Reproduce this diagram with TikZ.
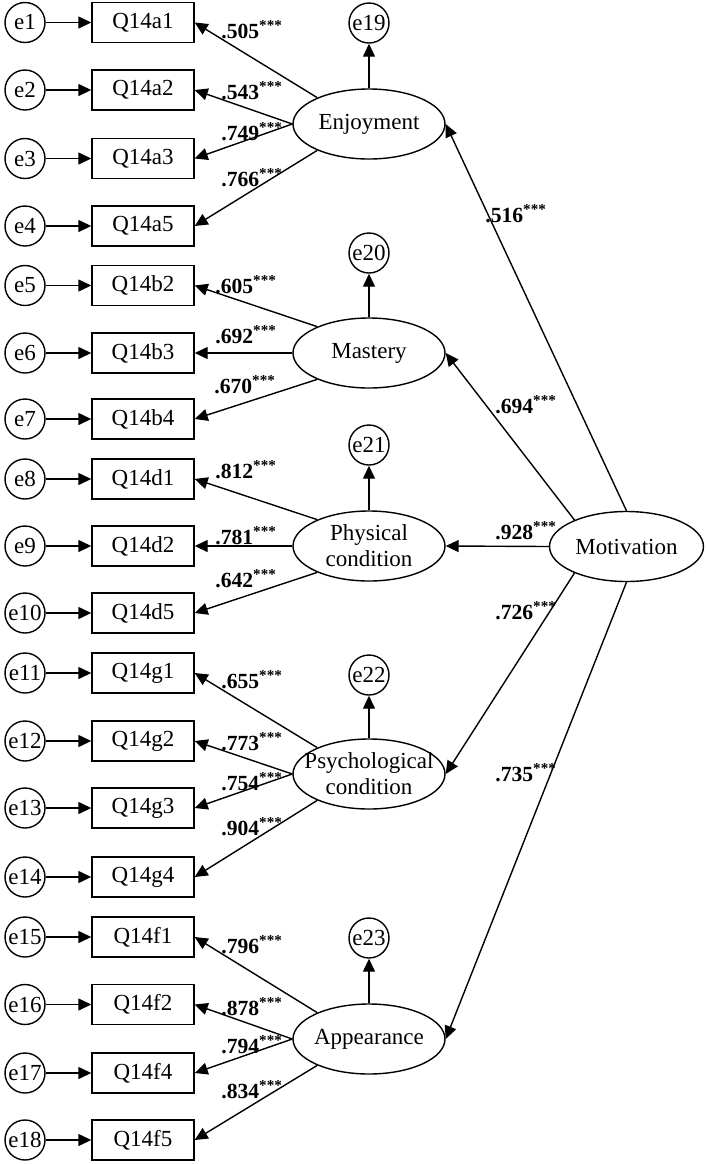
\documentclass[tikz,border=0pt]{standalone}
\usepackage{fontspec}
\setmainfont{Liberation Serif}
\usetikzlibrary{arrows.meta,shapes.geometric}

\tikzset{every node/.style={font=\fontsize{11.5}{13}\selectfont}}

\begin{document}
\begin{tikzpicture}[x=0.5pt, y=-0.5pt,
			item/.style={draw, rectangle, line width=0.7pt, minimum width=51pt, minimum height=20pt, inner sep=0pt},
			err/.style={draw, circle, line width=0.7pt, minimum size=20pt, inner sep=0pt},
			latent/.style={draw, ellipse, line width=0.7pt, minimum width=76pt, minimum height=35pt, inner xsep=-10pt, inner ysep=-8pt, align=center},
			arr/.style={-{Triangle[length=6.5pt,width=6pt]}, line width=0.7pt},
			coef/.style={font=\fontsize{10.8}{12}\selectfont\bfseries, inner sep=0pt, anchor=base west},
			]
			\useasboundingbox (0,0) rectangle (707,1164);
			
			% Observed items with their error terms
			\foreach \name/\y [count=\n from 1] in {Q14a1/22.5, Q14a2/90, Q14a3/158.5, Q14a5/226,
				Q14b2/285.5, Q14b3/353, Q14b4/419, Q14d1/479, Q14d2/546, Q14d5/613,
				Q14g1/673, Q14g2/741, Q14g3/808, Q14g4/877,
				Q14f1/937, Q14f2/1004.5, Q14f4/1073, Q14f5/1140} {
				\node[item] (q\n) at (143,\y) {\name};
				\node[err] (e\n) at (25,\y) {e\n};
				\draw[arr] (e\n) -- (q\n);
			}
			
			% Latent factors
			\node[latent] (enj) at (369,124) {Enjoyment};
			\node[latent] (mas) at (369,353) {Mastery};
			\node[latent] (phy) at (369,546) {Physical\\condition};
			\node[latent] (psy) at (369,774) {Psychological\\condition};
			\node[latent] (app) at (369,1039) {Appearance};
			\node[latent, minimum width=77pt] (mot) at (626.5,546.5) {Motivation};
			
			% Disturbances
			\foreach \f/\y [count=\n from 19] in {enj/23, mas/253, phy/445, psy/675, app/938} {
				\node[err] (e\n) at (369,\y) {e\n};
				\draw[arr] (\f) -- (e\n);
			}
			
			% Loadings
			\draw[arr] (enj.153) -- (q1.east);
			\draw[arr] (enj.west) -- (q2.east);
			\draw[arr] (enj.west) -- (q3.east);
			\draw[arr] (enj.207) -- (q4.east);
			\draw[arr] (mas.153) -- (q5.east);
			\draw[arr] (mas.west) -- (q6.east);
			\draw[arr] (mas.207) -- (q7.east);
			\draw[arr] (phy.153) -- (q8.east);
			\draw[arr] (phy.west) -- (q9.east);
			\draw[arr] (phy.207) -- (q10.east);
			\draw[arr] (psy.153) -- (q11.east);
			\draw[arr] (psy.west) -- (q12.east);
			\draw[arr] (psy.west) -- (q13.east);
			\draw[arr] (psy.207) -- (q14.east);
			\draw[arr] (app.153) -- (q15.east);
			\draw[arr] (app.west) -- (q16.east);
			\draw[arr] (app.west) -- (q17.east);
			\draw[arr] (app.207) -- (q18.east);
			
			% Second-order paths
			\draw[arr] (mot.north) -- (enj.east);
			\draw[arr] (mot.153) -- (mas.east);
			\draw[arr] (mot.west) -- (phy.east);
			\draw[arr] (mot.207) -- (psy.east);
			\draw[arr] (mot.south) -- (app.east);
			
			% Coefficients
			\foreach \v/\x/\y [count=\n from 1] in {.505/221/38, .543/221/99, .749/221/140, .766/221/186,
				.605/215/293, .692/215/343, .670/214/393,
				.812/215/478, .781/215/544, .642/215/587,
				.655/221/688, .773/221/750, .754/221/790, .904/221/835,
				.796/221/953, .878/221/1015, .794/221/1053, .834/221/1098,
				.516/485/222, .694/495/413, .928/495/539, .726/495/619, .735/495/781} {
				\node[coef] (c\n) at (\x,\y) {\v\textsuperscript{***}};
			}
			
		\end{tikzpicture}
\end{document}
